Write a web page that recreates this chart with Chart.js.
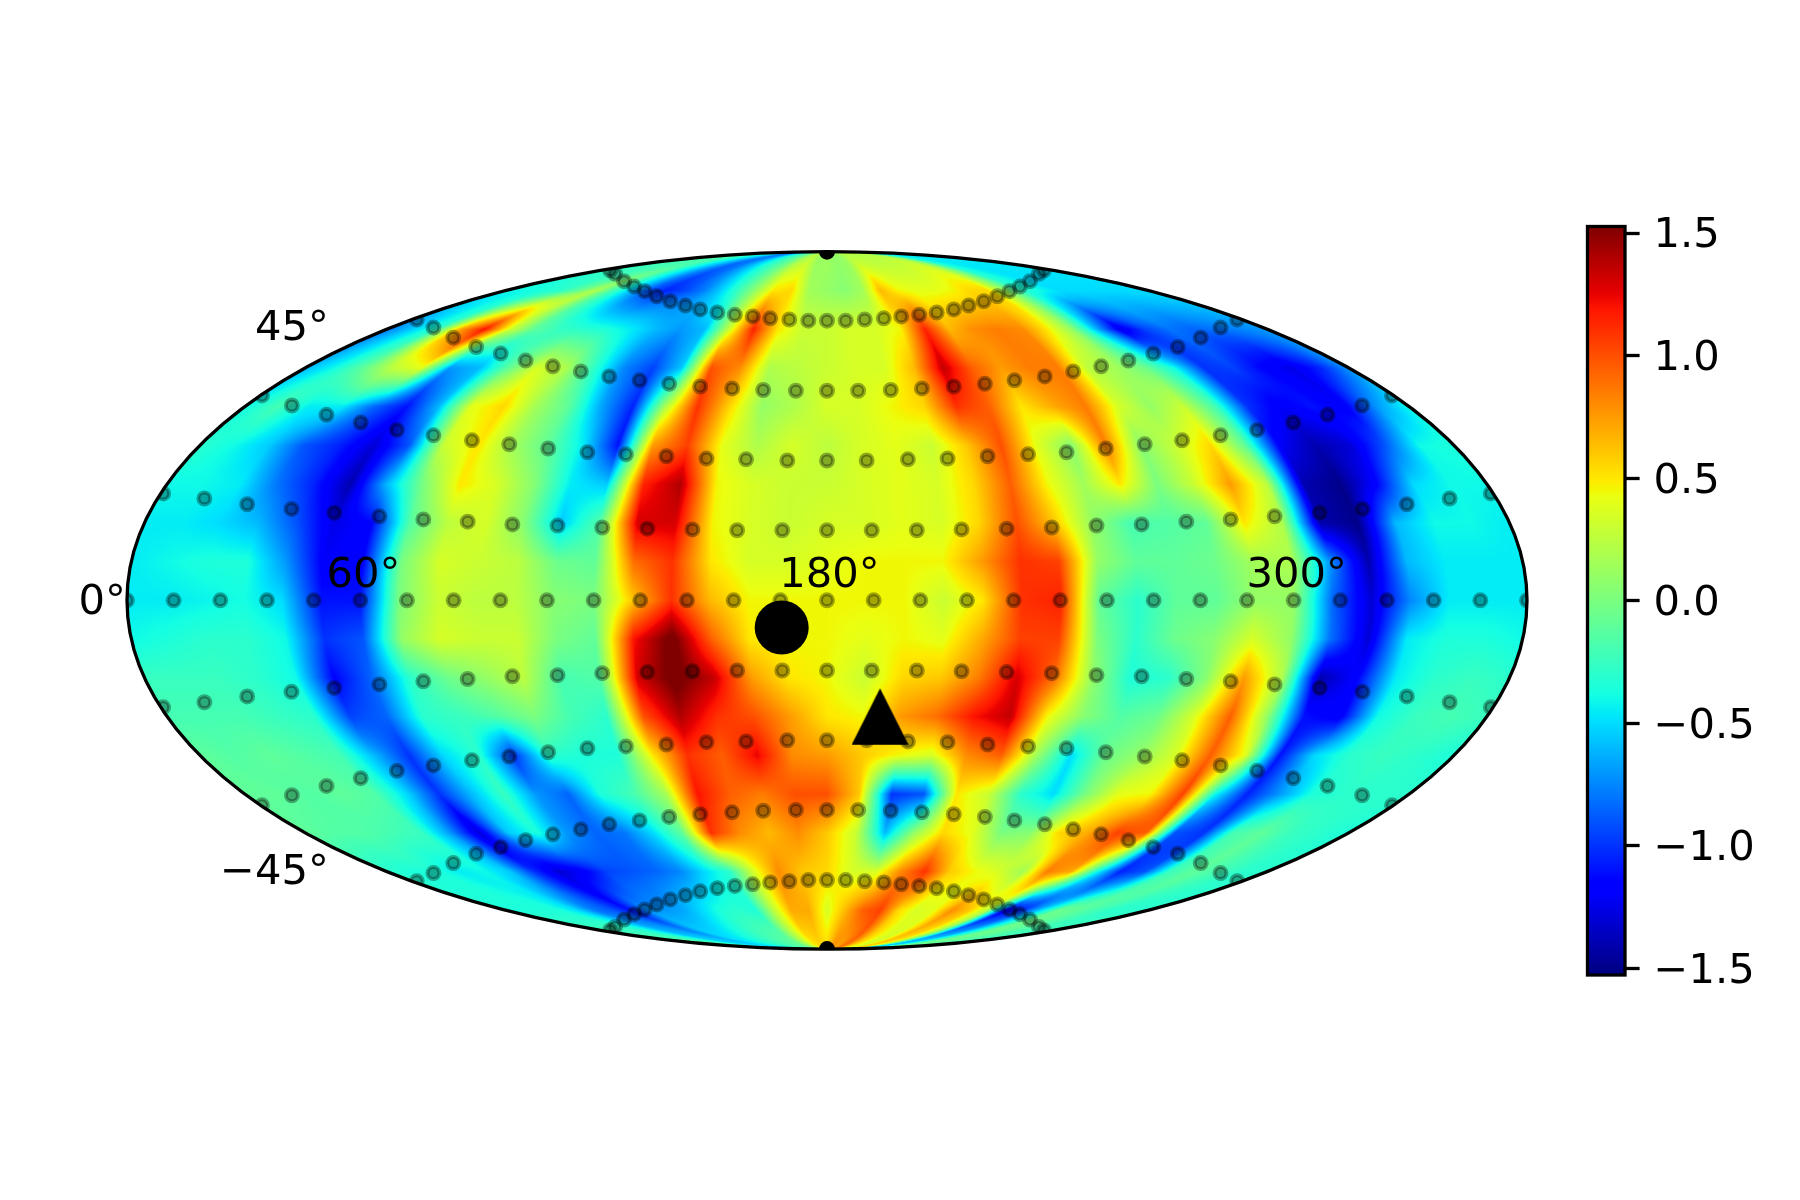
<!DOCTYPE html>
<html>
<head>
<meta charset="utf-8">
<title>Mollweide map</title>
<script src="https://cdn.jsdelivr.net/npm/chart.js@4"></script>
<style>
    html, body { margin: 0; padding: 0; background: #fff; }
    canvas { display: block; }
</style>
</head>
<body>
<canvas id="mapChart" width="1800" height="1200"></canvas>
<script>
// map values, one row per 10 units of map height, one column per 10 deg of longitude (0..360)
const rowN9 = [-.15,-.15,-.15,-.15,-.2,-.4,-.45,-.5,-.6,-.75,-.7,-.5,-.3,-.2,-.1,.1,.2,.1,.15,.1,.1,.15,.2,.2,.2,.2,.2,.15,0,-.35,-.45,-.45,-.45,-.45,-.45,-.45,-.4];
const rowN8 = [-.4,-.4,-.35,-.3,-.1,.2,-.2,-.55,-.9,-1.05,-.95,-.8,-.55,-.25,.1,.5,.55,.15,.1,.05,.15,.65,.45,.4,.4,.45,.55,.55,.1,-.3,-.4,-.5,-.5,-.5,-.5,-.5,-.5];
const rowN7 = [-.8,-.55,-.3,.7,1.2,.35,-.1,-.25,-.3,-.35,-.45,-.6,-.7,-.6,.3,1.15,.5,.3,.3,.35,.35,.45,1.15,.65,.8,.85,.8,.5,.1,-.6,-1.25,-.95,-.8,-.85,-.8,-.75,-.7];
const rowN6 = [-.6,-.4,-.1,.25,.4,-.7,-.6,-.1,.35,.2,-.3,-.75,-.95,-.55,1.0,.8,.2,.25,.3,.35,.35,.65,1.35,.95,.75,.85,.85,.25,.15,-.05,-.4,-1.0,-.95,-1.15,-1.25,-1.05,-.7];
const rowN5 = [-.4,-.2,-.45,-.45,-.85,-1.1,-.6,.4,.55,.15,-.1,-.65,-1.05,.2,1.1,.55,.1,.2,.35,.35,.45,.55,1.1,.95,.5,.7,.85,.35,.1,.3,-.2,-1.0,-1.2,-1.1,-1.2,-.7,-.4];
const rowN4 = [-.3,-.4,-.55,-.9,-1.05,-1.3,-.9,.3,.5,.15,-.1,-.45,-1.1,.75,1.05,.4,.2,.35,.25,.35,.4,.3,.6,1.0,.4,.05,.85,.05,.3,.55,-.1,-1.2,-1.4,-1.3,-.9,-.4,-.35];
const rowN3 = [-.4,-.4,-.45,-.8,-1.05,-1.4,-.6,0,.5,.35,.05,-.45,-.55,1.15,1.4,.45,.35,.3,.3,.35,.4,.35,.55,.95,.45,.15,.5,0,.3,.75,.25,-1.4,-1.5,-1.15,-.5,-.4,-.4];
const rowN2 = [-.45,-.45,-.5,-.6,-.9,-1.25,-1.15,-.15,.25,.35,.05,-.55,-.15,1.3,1.3,.45,.35,.3,.35,.35,.4,.35,.55,1.0,.6,.1,-.2,-.15,-.1,.5,.2,-1.4,-1.5,-.6,-.4,-.4,-.45];
const rowN1 = [-.45,-.4,-.35,-.35,-.7,-1.2,-1.15,0,.35,.3,.25,-.05,-.1,.9,1.1,.5,.35,.35,.4,.45,.45,.45,.75,1.1,1.05,.1,-.1,-.1,-.05,.15,.2,-.7,-1.4,-.6,-.45,-.45,-.45];
const row00 = [-.45,-.45,-.42,-.38,-.5,-1.1,-1.1,0,.3,.25,.25,.05,0,.6,1.1,.65,.45,.45,.45,.45,.45,.3,.5,1.1,1.15,-.1,-.3,-.1,-.1,.1,.1,-.85,-1.3,-.75,-.45,-.45,-.45];
const rowS1 = [-.4,-.35,-.3,-.3,-.4,-1.0,-.9,.1,.35,.3,.3,0,-.1,1.2,1.6,.95,.5,.45,.45,.4,.45,.4,.7,1.05,1.05,0,-.3,-.05,.05,.35,.1,-.8,-1.3,-.45,-.35,-.35,-.4];
const rowS2 = [-.25,-.25,-.25,-.3,-.4,-1.15,-.85,-.3,-.05,.1,.25,-.2,-.15,1.3,1.6,1.35,.75,.5,.45,.3,.55,.6,.85,1.3,.9,.1,-.35,-.3,.05,.75,.2,-1.4,-1.15,-.45,-.3,-.25,-.3];
const rowS3 = [-.2,-.2,-.2,-.25,-.3,-.95,-.85,-.3,-.25,-.15,0,-.2,-.3,1.0,1.4,1.1,1.0,.75,.5,.45,.75,.9,1.2,1.35,.45,.05,-.15,-.05,.35,.95,.1,-1.1,-1.2,-.4,-.25,-.2,-.25];
const rowS4 = [-.1,-.15,-.1,-.15,-.2,-.6,-1.0,-.5,-.3,-1.0,-.3,-.35,-.35,.5,1.1,.95,1.25,.8,.75,.6,.45,.35,.8,.95,.15,-.5,-.05,.1,.35,.95,.4,-1.1,-.5,-.3,-.25,-.3,-.35];
const rowS5 = [-.1,-.1,-.15,-.1,-.15,-.5,-1.0,-.6,-.25,-.7,-.85,-.35,-.2,.15,1.2,.95,.85,1.0,1.0,.6,-1.0,-.9,.5,.3,-.3,-.5,0,.4,.45,1.05,-.4,-1.05,-.7,-.35,-.3,-.3,-.3];
const rowS6 = [-.1,-.15,-.15,-.2,-.25,-.7,-1.3,-.55,-.35,-.7,-.85,-.8,-.5,-.1,1.1,.8,.65,.8,.6,.3,-.6,.1,.55,.4,0,.05,.55,.7,1.05,.95,-.9,-1.0,-.2,-.1,-.25,-.3,-.35];
const rowS7 = [-.3,-.35,-.35,-.45,-.4,-.55,-1.0,-1.3,-1.2,-.95,-.9,-.85,-.75,-.5,-.3,.35,.8,.6,.55,.35,.35,.8,1.1,.6,.45,.35,.15,.85,.7,-.35,-1.05,-.9,-.25,-.1,-.2,-.3,-.3];
const rowS8 = [-.35,-.35,-.35,-.35,-.5,-.8,-.9,-1.1,-.7,-.7,-.65,-.5,-.35,-.3,-.35,.25,.7,.7,.35,.65,.95,1.05,.55,.35,.4,.8,.6,.2,-1.2,-1.0,-.5,-.05,-.1,-.2,-.3,-.3,-.3];
const rowS9 = [-.15,-.15,-.15,-.2,-.3,-.45,-.45,-.45,-.4,-.35,-.25,-.2,-.15,-.1,0,.2,.45,.55,.55,.8,.7,.9,.65,.45,.3,.55,.5,.05,-.45,-.45,-.25,-.05,-.05,-.1,-.15,-.15,-.15];
const mapRows = [rowS9,rowS8,rowS7,rowS6,rowS5,rowS4,rowS3,rowS2,rowS1,row00,rowN1,rowN2,rowN3,rowN4,rowN5,rowN6,rowN7,rowN8,rowN9];

// station rings, in map units (180 = half width, 90 = half height)
const ringOuterX = [-55.8,-54.5,-52.2,-49.6,-46.9,-43.8,-40.3,-36.4,-32.6,-28.2,-23.7,-19.1,-14.6,-9.7,-4.8,0,4.8,9.7,14.6,19.1,23.7,28.2,32.6,36.4,40.3,43.8,46.9,49.6,52.2,54.5,55.8];
const ringOuterN = [85.2,84.3,82.4,81,79.8,78.5,77.2,76.1,75.1,74.3,73.7,73.3,72.8,72.5,72.2,72.2,72.2,72.5,72.8,73.3,73.7,74.3,75.1,76.1,77.2,78.5,79.8,81,82.4,84.3,85.2];
const ringOuterS = [-85.2,-84.3,-82.4,-81,-79.8,-78.5,-77.2,-76.1,-75.1,-74.3,-73.7,-73.3,-72.8,-72.5,-72.2,-72.2,-72.2,-72.5,-72.8,-73.3,-73.7,-74.3,-75.1,-76.1,-77.2,-78.5,-79.8,-81,-82.4,-84.3,-85.2];
const ringHighX = [-105.5,-101.2,-96.1,-90.2,-83.9,-77.5,-70.5,-63.3,-56,-48.2,-40.6,-32.6,-24.4,-16.4,-8,0,8,16.4,24.4,32.6,40.6,48.2,56,63.3,70.5,77.5,83.9,90.2,96.1,101.2,105.5];
const ringHighN = [72.5,70.4,67.8,65.4,63.7,61.9,60.4,59.1,57.8,56.8,55.9,55.2,54.7,54.3,54.1,54.1,54.1,54.3,54.7,55.2,55.9,56.8,57.8,59.1,60.4,61.9,63.7,65.4,67.8,70.4,72.5];
const ringHighS = [-72.5,-70.4,-67.8,-65.4,-63.7,-61.9,-60.4,-59.1,-57.8,-56.8,-55.9,-55.2,-54.7,-54.3,-54.1,-54.1,-54.1,-54.3,-54.7,-55.2,-55.9,-56.8,-57.8,-59.1,-60.4,-61.9,-63.7,-65.4,-67.8,-70.4,-72.5];
const ringMidX = [-145.3,-137.6,-128.7,-119.9,-110.6,-101.2,-91.3,-81.7,-71.7,-61.6,-51.7,-41.3,-31,-20.8,-10.2,0,10.2,20.8,31,41.3,51.7,61.6,71.7,81.7,91.3,101.2,110.6,119.9,128.7,137.6,145.3];
const ringMidN = [52.9,50.3,47.9,45.9,44,42.6,41.3,40.3,39.2,38.2,37.7,37.2,36.6,36.4,36.1,36.1,36.1,36.4,36.6,37.2,37.7,38.2,39.2,40.3,41.3,42.6,44,45.9,47.9,50.3,52.9];
const ringMidS = [-52.9,-50.3,-47.9,-45.9,-44,-42.6,-41.3,-40.3,-39.2,-38.2,-37.7,-37.2,-36.6,-36.4,-36.1,-36.1,-36.1,-36.4,-36.6,-37.2,-37.7,-38.2,-39.2,-40.3,-41.3,-42.6,-44,-45.9,-47.9,-50.3,-52.9];
const ringLowX = [-170.7,-160.1,-149.1,-137.7,-126.7,-115.1,-103.8,-92.4,-80.9,-69.3,-57.8,-46.2,-34.6,-23.1,-11.5,0,11.5,23.1,34.6,46.2,57.8,69.3,80.9,92.4,103.8,115.1,126.7,137.7,149.1,160.1,170.7];
const ringLowN = [27.6,26.3,24.8,23.6,22.6,21.7,20.9,20.3,19.6,19.3,18.8,18.5,18.3,18.1,18.1,18.1,18.1,18.1,18.3,18.5,18.8,19.3,19.6,20.3,20.9,21.7,22.6,23.6,24.8,26.3,27.6];
const ringLowS = [-27.6,-26.3,-24.8,-23.6,-22.6,-21.7,-20.9,-20.3,-19.6,-19.3,-18.8,-18.5,-18.3,-18.1,-18.1,-18.1,-18.1,-18.1,-18.3,-18.5,-18.8,-19.3,-19.6,-20.3,-20.9,-21.7,-22.6,-23.6,-24.8,-26.3,-27.6];
const ringEqX = [-180,-168,-156,-144,-132,-120,-108,-96,-84,-72,-60,-48,-36,-24,-12,0,12,24,36,48,60,72,84,96,108,120,132,144,156,168,180];
const ringEqY = [0,0,0,0,0,0,0,0,0,0,0,0,0,0,0,0,0,0,0,0,0,0,0,0,0,0,0,0,0,0,0];
const poleX = [0, 0];
const poleY = [90, -90];

const circleX = [-11.65];
const circleY = [-7.0];
const triangleX = [13.63];
const triangleY = [-30.0];

const lonLabels = ['60°', '180°', '300°'];
const lonLabelX = [-119.2, 0.6, 120.8];
const lonLabelY = [3.35, 3.35, 3.35];
const latLabels = ['45°', '0°', '−45°'];
const latLabelX = [-128.1, -180.3, -128.1];
const latLabelY = [67.3, -3.6, -73.2];

const cbTicks = [-1.5, -1, -0.5, 0, 0.5, 1, 1.5];
const cbMin = -1.527;
const cbMax = 1.527;

// matplotlib jet
const jetPos = [0, 0.11, 0.125, 0.34, 0.35, 0.375, 0.64, 0.65, 0.66, 0.89, 0.91, 1];
const jetR = [0, 0, 0, 0, 0, 0.0806, 0.9194, 0.9516, 1, 1, 0.9092, 0.5];
const jetG = [0, 0, 0, 0.8775, 0.9194, 1, 1, 0.9594, 0.9188, 0.0816, 0, 0];
const jetB = [0.5, 1, 1, 1, 0.9677, 0.8871, 0.0645, 0, 0, 0, 0, 0];

const FONT = '"DejaVu Sans"';
const FONT_SIZE = 41.67;

function jetColor(v) {
    const t = Math.min(1, Math.max(0, (v - cbMin) / (cbMax - cbMin)));
    let i = 0;
    while (i < jetPos.length - 2 && t > jetPos[i + 1]) i++;
    const f = (t - jetPos[i]) / (jetPos[i + 1] - jetPos[i]);
    return [
        255 * (jetR[i] + (jetR[i + 1] - jetR[i]) * f),
        255 * (jetG[i] + (jetG[i + 1] - jetG[i]) * f),
        255 * (jetB[i] + (jetB[i + 1] - jetB[i]) * f)
    ];
}

function mapValueAt(xu, yu) {
    const c = Math.sqrt(Math.max(1e-6, 1 - (yu / 90) * (yu / 90)));
    const col = Math.min(35.999, Math.max(0, 18 + (xu / c) / 10));
    const row = Math.min(17.999, Math.max(0, (yu + 90) / 10));
    const c0 = Math.floor(col), r0 = Math.floor(row);
    const fc = col - c0, fr = row - r0;
    const a = mapRows[r0][c0] * (1 - fc) + mapRows[r0][c0 + 1] * fc;
    const b = mapRows[r0 + 1][c0] * (1 - fc) + mapRows[r0 + 1][c0 + 1] * fc;
    return a * (1 - fr) + b * fr;
}

function mapOutline(chart) {
    const sx = chart.scales.x, sy = chart.scales.y;
    const cx = sx.getPixelForValue(0), cy = sy.getPixelForValue(0);
    const ctx = chart.ctx;
    ctx.beginPath();
    ctx.ellipse(cx, cy, sx.getPixelForValue(180) - cx, cy - sy.getPixelForValue(90), 0, 0, Math.PI * 2);
}

const mapPlugin = {
    id: 'mapPlugin',
    beforeDatasetsDraw(chart) {
        const ctx = chart.ctx;
        const sx = chart.scales.x, sy = chart.scales.y;
        const left = Math.floor(sx.getPixelForValue(-180));
        const right = Math.ceil(sx.getPixelForValue(180));
        const top = Math.floor(sy.getPixelForValue(90));
        const bottom = Math.ceil(sy.getPixelForValue(-90));
        const off = document.createElement('canvas');
        off.width = right - left;
        off.height = bottom - top;
        const octx = off.getContext('2d');
        const img = octx.createImageData(off.width, off.height);
        for (let py = top; py < bottom; py++) {
            const yu = sy.getValueForPixel(py + 0.5);
            for (let px = left; px < right; px++) {
                const rgb = jetColor(mapValueAt(sx.getValueForPixel(px + 0.5), yu));
                const k = ((py - top) * off.width + (px - left)) * 4;
                img.data[k] = rgb[0];
                img.data[k + 1] = rgb[1];
                img.data[k + 2] = rgb[2];
                img.data[k + 3] = 255;
            }
        }
        octx.putImageData(img, 0, 0);
        ctx.save();
        mapOutline(chart);
        ctx.clip();
        ctx.drawImage(off, left, top);
        ctx.restore();

        // colorbar, on the y1 scale
        const cb = chart.scales.y1;
        const barRight = chart.chartArea.right;
        const barLeft = barRight - 37.5;
        const barTop = cb.getPixelForValue(cbMax);
        const barBottom = cb.getPixelForValue(cbMin);
        for (let py = Math.floor(barTop); py < barBottom; py++) {
            const rgb = jetColor(cb.getValueForPixel(py + 0.5));
            ctx.fillStyle = 'rgb(' + rgb[0] + ',' + rgb[1] + ',' + rgb[2] + ')';
            ctx.fillRect(barLeft, py, barRight - barLeft, 1);
        }
        ctx.strokeStyle = '#000';
        ctx.lineWidth = 3.3;
        ctx.strokeRect(barLeft, barTop, barRight - barLeft, barBottom - barTop);
    },
    beforeDatasetDraw(chart, args) {
        if (chart.data.datasets[args.index].clipToMap) {
            chart.ctx.save();
            mapOutline(chart);
            chart.ctx.clip();
        }
    },
    afterDatasetDraw(chart, args) {
        if (chart.data.datasets[args.index].clipToMap) {
            chart.ctx.restore();
        }
    },
    afterDatasetsDraw(chart) {
        const ctx = chart.ctx;
        const sx = chart.scales.x, sy = chart.scales.y;
        ctx.save();
        mapOutline(chart);
        ctx.strokeStyle = '#000';
        ctx.lineWidth = 3.3;
        ctx.stroke();
        ctx.fillStyle = '#000';
        ctx.font = FONT_SIZE + 'px ' + FONT;
        ctx.textBaseline = 'alphabetic';
        ctx.textAlign = 'center';
        lonLabels.forEach((t, i) => ctx.fillText(t, sx.getPixelForValue(lonLabelX[i]), sy.getPixelForValue(lonLabelY[i])));
        ctx.textAlign = 'right';
        latLabels.forEach((t, i) => ctx.fillText(t, sx.getPixelForValue(latLabelX[i]), sy.getPixelForValue(latLabelY[i])));
        ctx.restore();
    }
};

function toPoints(xs, ys) {
    return xs.map((x, i) => ({ x: x, y: ys[i] }));
}

function triangleMarker() {
    const c = document.createElement('canvas');
    c.width = 57;
    c.height = 57;
    const g = c.getContext('2d');
    g.fillStyle = '#000';
    g.beginPath();
    g.moveTo(28.5, 0.2);
    g.lineTo(57, 56.8);
    g.lineTo(0, 56.8);
    g.closePath();
    g.fill();
    return c;
}

const stationPoints = [].concat(
    toPoints(ringOuterX, ringOuterN),
    toPoints(ringHighX, ringHighN),
    toPoints(ringMidX, ringMidN),
    toPoints(ringLowX, ringLowN),
    toPoints(ringEqX, ringEqY),
    toPoints(ringLowX, ringLowS),
    toPoints(ringMidX, ringMidS),
    toPoints(ringHighX, ringHighS),
    toPoints(ringOuterX, ringOuterS)
);

new Chart(document.getElementById('mapChart'), {
    type: 'scatter',
    data: {
        datasets: [
            {
                label: 'circle',
                data: toPoints(circleX, circleY),
                pointStyle: 'circle',
                pointRadius: 27,
                pointBackgroundColor: '#000',
                pointBorderWidth: 0
            },
            {
                label: 'triangle',
                data: toPoints(triangleX, triangleY),
                pointStyle: triangleMarker(),
                pointRadius: 28
            },
            {
                label: 'poles',
                data: toPoints(poleX, poleY),
                clipToMap: true,
                pointRadius: 8,
                pointBackgroundColor: '#000',
                pointBorderWidth: 0
            },
            {
                label: 'stations',
                data: stationPoints,
                clipToMap: true,
                pointRadius: 6,
                pointBorderWidth: 4,
                pointBackgroundColor: 'rgba(0,0,0,0.33)',
                pointBorderColor: 'rgba(0,0,0,0.33)'
            }
        ]
    },
    plugins: [mapPlugin],
    options: {
        responsive: false,
        animation: false,
        events: [],
        layout: { padding: { left: 127, top: 226.5, right: 0, bottom: 225 } },
        plugins: { legend: { display: false }, tooltip: { enabled: false } },
        scales: {
            x: { type: 'linear', display: false, min: -180, max: 205.2 },
            y: { type: 'linear', display: false, min: -96.7, max: 96.5 },
            y1: {
                type: 'linear',
                position: 'right',
                min: cbMin,
                max: cbMax,
                afterBuildTicks(scale) {
                    scale.ticks = cbTicks.map(v => ({ value: v }));
                },
                afterFit(scale) {
                    scale.width = 175;
                },
                border: { display: false },
                grid: { drawOnChartArea: false, drawTicks: true, tickLength: 14.6, tickWidth: 3.3, tickColor: '#000' },
                ticks: {
                    autoSkip: false,
                    color: '#000',
                    padding: 14,
                    labelOffset: 3.5,
                    font: { family: FONT, size: FONT_SIZE },
                    callback(v) {
                        return (v < 0 ? '\u2212' : '') + Math.abs(v).toFixed(1);
                    }
                }
            }
        }
    }
});
</script>
</body>
</html>
